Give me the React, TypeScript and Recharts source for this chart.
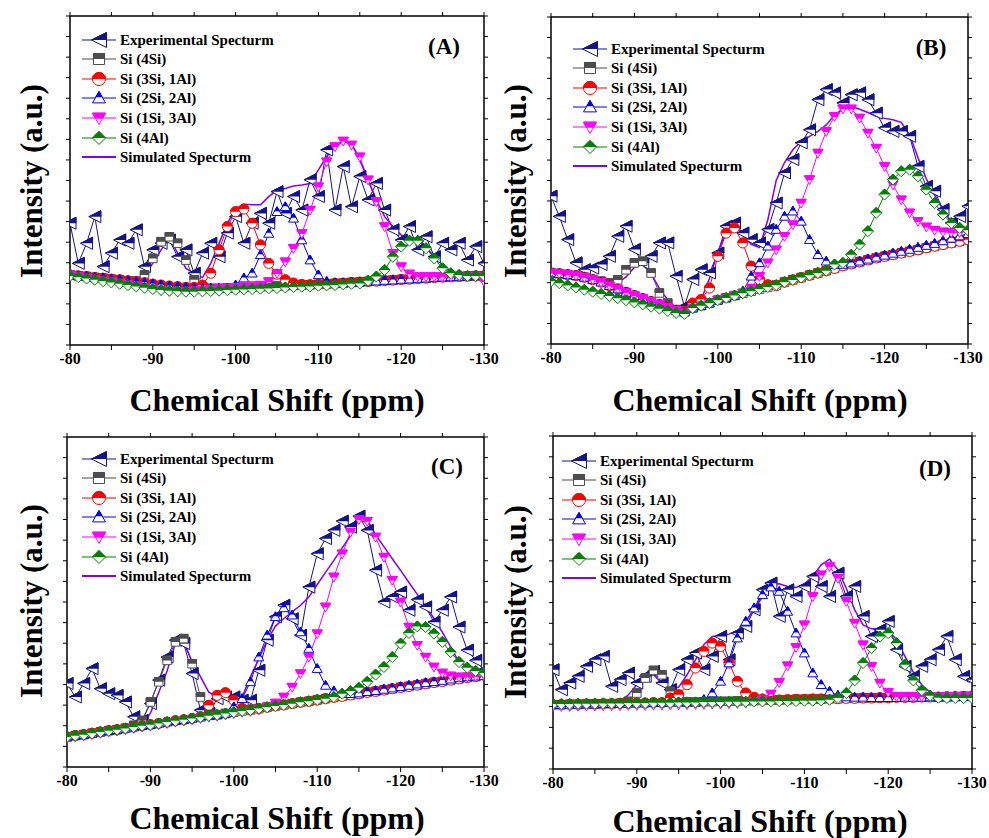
import React from "react";
import { LineChart, Line, XAxis, YAxis } from "recharts";

// chemical shift axis (ppm), one point per ppm
const ppm = [
  -80, -81, -82, -83, -84, -85, -86, -87, -88, -89, -90, -91, -92, -93, -94, -95, -96, -97, -98, -99,
  -100, -101, -102, -103, -104, -105, -106, -107, -108, -109, -110, -111, -112, -113, -114, -115, -116,
  -117, -118, -119, -120, -121, -122, -123, -124, -125, -126, -127, -128, -129, -130,
];
const xTicks = [-80, -85, -90, -95, -100, -105, -110, -115, -120, -125, -130];
const yTicks = [0, 6.25, 12.5, 18.75, 25, 31.25, 37.5, 43.75, 50, 56.25, 62.5, 68.75, 75, 81.25, 87.5, 93.75, 100];

// ---- panel A ----
const expA = [37, 24.8, 30.9, 39, 23.8, 27.9, 31.9, 30.9, 35, 23.8, 28.9, 30.9, 31.9, 26.8, 28.9, 21.8, 27.9, 30.9, 26.8, 34, 39, 30.9, 37, 40, 37, 46.6, 40, 45.1, 41, 50.2, 45.1, 59.3, 41, 54.2, 42, 51.2, 44.1, 49.1, 41, 35, 31.9, 36, 28.9, 32.9, 26.8, 30.9, 28.9, 30.9, 25.8, 29.9, 24.8];
const grayA = [21.3, 21, 20.8, 20.5, 20.3, 20, 19.8, 19.5, 19.4, 21.3, 26.3, 31.4, 32.9, 30.9, 25.8, 19.8, 17.4, 17.2, 17.2, 17.3, 17.4, 17.5, 17.6, 17.7, 17.8, 17.9, 18, 18.1, 18.2, 18.3, 18.4, 18.5, 18.7, 18.8, 19, 19.1, 19.3, 19.4, 19.6, 19.7, 19.9, 20, 20.2, 20.3, 20.5, 20.6, 20.7, 20.8, 20.9, 21, 21];
const redA = [21.3, 21, 20.8, 20.5, 20.3, 20, 19.8, 19.5, 19.2, 18.9, 18.5, 18.2, 17.9, 17.7, 17.5, 17.5, 18.2, 21.8, 28.9, 36, 40.5, 41.3, 37, 30.4, 24.8, 21.5, 19.8, 18.8, 18.4, 18.3, 18.4, 18.5, 18.7, 18.8, 19, 19.1, 19.3, 19.4, 19.6, 19.7, 19.9, 20, 20.2, 20.3, 20.5, 20.6, 20.7, 20.8, 20.9, 21, 21];
const blueA = [21.3, 21, 20.8, 20.5, 20.3, 20, 19.8, 19.5, 19.2, 18.9, 18.5, 18.2, 17.9, 17.7, 17.5, 17.3, 17.2, 17.2, 17.2, 17.3, 18.2, 20.3, 21.8, 27.4, 33.9, 40.5, 42, 38.5, 31.9, 25.8, 21.3, 19.3, 18.9, 18.8, 19, 19.1, 19.3, 19.4, 19.6, 19.7, 19.9, 20, 20.2, 20.3, 20.5, 20.6, 20.7, 20.8, 20.9, 21, 21];
const pinkA = [21.3, 20.8, 20.3, 19.8, 19.5, 19.2, 18.8, 18.4, 18, 17.5, 17, 16.6, 16.3, 16.2, 16.3, 16.5, 16.7, 16.9, 17.1, 17.3, 17.5, 17.7, 18, 18.2, 19.3, 21.8, 25.3, 29.4, 33.9, 41, 48.1, 55.7, 60.3, 62, 60.8, 57.2, 50.2, 43.6, 36, 27.9, 23.8, 21.6, 20.8, 20.8, 20.8, 20.8, 20.8, 20.8, 20.8, 20.8, 19.3];
const greenA = [21, 20.6, 20.2, 19.8, 19.4, 19, 18.6, 18.2, 17.8, 17.4, 17, 16.7, 16.5, 16.3, 16.2, 16.2, 16.3, 16.4, 16.5, 16.7, 16.8, 16.9, 17, 17.1, 17.2, 17.3, 17.5, 17.6, 17.7, 17.8, 18, 18.1, 18.2, 18.4, 18.6, 18.7, 19.5, 20.8, 22.8, 26.8, 29.9, 31.7, 31.7, 29.4, 26.3, 23.3, 21.8, 21.3, 21, 21, 21];
const simA = [21.8, 21.5, 21.2, 21, 20.8, 20.5, 20.3, 20, 19.8, 21.3, 24.8, 28.9, 32.4, 27.9, 23.3, 21.8, 20.5, 24.8, 30.9, 37, 41.5, 42.8, 42.6, 42.6, 45.1, 47.1, 47.6, 48.3, 48.6, 49.1, 53.2, 57.2, 60.3, 62, 61.3, 56.2, 50.2, 44.1, 39, 36, 33.4, 32.7, 32.4, 29.9, 26.8, 24.3, 22.3, 21.6, 21.3, 21.1, 21];

// ---- panel B ----
const expB = [45.2, 39, 31.9, 24.8, 22.7, 23.2, 24.3, 26.8, 32.9, 36, 28.9, 24.8, 26.8, 30.9, 30.9, 20.7, 11.5, 19.7, 22.7, 21.7, 27.8, 36, 37, 33.9, 31.9, 30.9, 35, 43.1, 52.3, 56.4, 61.5, 65.5, 74.7, 77.8, 76.8, 73.7, 76.2, 76.8, 74.7, 70.6, 66.1, 65, 65, 63.5, 54.3, 48.2, 46.7, 41.1, 37, 39, 42.1];
const grayB = [21.7, 21.5, 21.2, 20.9, 20.4, 19.7, 19.2, 18.7, 19.6, 22.7, 24.8, 25.3, 21.7, 15.6, 12.5, 10.5, 10, 11, 11.7, 12.5, 13.4, 14.1, 14.8, 15.5, 16.1, 16.8, 17.4, 18, 18.9, 19.6, 20.3, 21, 21.7, 22.4, 23.1, 23.9, 24.5, 25.1, 25.7, 26.3, 26.8, 27.3, 27.8, 28.3, 28.8, 29.4, 29.9, 30.4, 30.9, 31.4, 31.9];
const redB = [21.7, 21.5, 21.2, 20.9, 20.4, 19.7, 18.9, 17.8, 16.8, 15.8, 14.8, 13.9, 13, 12.1, 11.2, 10.3, 10, 12.5, 13.6, 17.1, 26.8, 33.9, 35.5, 30.9, 23.8, 19.7, 18.1, 17.8, 18.9, 19.6, 20.3, 21, 21.7, 22.4, 23.1, 23.9, 24.5, 25.1, 25.7, 26.3, 26.8, 27.3, 27.8, 28.3, 28.8, 29.4, 29.9, 30.4, 30.9, 31.4, 31.9];
const blueB = [21.7, 21.5, 21.2, 20.9, 20.4, 19.7, 18.9, 17.8, 16.8, 15.8, 14.8, 13.9, 13, 12.1, 11.2, 10.3, 9.7, 11, 11.7, 12.5, 13.4, 14.1, 14.8, 16.1, 20.7, 24.8, 29.9, 35, 39, 40.6, 37.5, 31.9, 27.3, 25.3, 24.3, 24.3, 24.7, 25.3, 25.9, 26.5, 27.1, 27.7, 28.3, 28.9, 29.5, 30.1, 30.7, 31.5, 32.3, 33, 33.7];
const pinkB = [21.7, 21.5, 21.2, 20.9, 20.4, 19.7, 18.9, 17.8, 16.8, 15.8, 14.8, 13.9, 13, 12.1, 11.2, 10.3, 9.5, 10.8, 11.7, 12.5, 13.4, 14.1, 14.8, 15.5, 17.1, 20.7, 24.8, 28.8, 32.9, 36.5, 43.1, 50.3, 58.4, 65, 69.6, 71.9, 71.9, 69.1, 64.5, 59.9, 54.3, 48.7, 44.1, 40.1, 37.5, 35.8, 34.8, 34.3, 34.1, 34.1, 34.5];
const greenB = [19.2, 18.6, 17.9, 17.3, 16.6, 16, 15.3, 14.7, 14, 13.4, 12.7, 12.1, 11.4, 10.8, 10.1, 9.5, 9.2, 11, 11.7, 12.5, 13.4, 14.1, 14.8, 15.5, 16.1, 16.8, 17.4, 18, 18.9, 19.6, 20.3, 21, 21.7, 22.4, 24.3, 24.8, 27.3, 30.4, 34.5, 40.1, 45.7, 50.3, 52.8, 53.3, 51.3, 47.2, 43.1, 39.6, 37, 35.5, 34.8];
const simB = [21.7, 21.6, 21.4, 21.2, 21, 20.6, 20, 19.3, 18.7, 20.5, 23.5, 24.3, 21.5, 17, 13.5, 11, 10.2, 11.2, 13.5, 20, 28, 34.5, 36.5, 33.5, 30.5, 29.5, 38, 50, 55.5, 59.4, 62, 63.5, 65, 67, 70, 72, 72.7, 71.8, 70.8, 69.6, 69, 68.6, 67.8, 64, 57, 50.5, 45.5, 41, 37.5, 35.8, 35];

// ---- panel C ----
const expC = [25.3, 21.2, 25.3, 29.8, 23.7, 22.2, 21.7, 19.7, 15.2, 14.1, 19.2, 26.3, 33.3, 38.4, 37.4, 28.3, 17.2, 16.2, 20.7, 21.2, 21.2, 20.2, 20.2, 29.3, 38.4, 45.5, 49, 44.9, 39.9, 54.5, 64.6, 69.2, 71.7, 74.5, 72.7, 76, 71.7, 59.6, 50, 51.5, 53, 47.5, 50.7, 48.5, 43.9, 47.5, 51.5, 42.4, 35.4, 32.3, 29.3];
const grayC = [9.1, 9.5, 9.8, 10.2, 10.6, 11, 11.3, 11.7, 12.6, 14.1, 19.7, 25.8, 32.3, 37.9, 38.9, 31.3, 21.2, 16.2, 15.8, 16.2, 16.6, 17, 17.3, 17.7, 18.1, 18.5, 18.8, 19.2, 19.6, 19.9, 20.3, 20.7, 21.1, 21.4, 21.8, 22.2, 22.6, 22.9, 23.3, 23.7, 24.1, 24.4, 24.8, 25.2, 25.6, 25.9, 26.3, 26.7, 27.1, 27.4, 27.8];
const redC = [9.1, 9.5, 9.8, 10.2, 10.6, 11, 11.3, 11.7, 12.1, 12.5, 12.8, 13.2, 13.6, 14, 14.3, 14.7, 15.2, 18.7, 21.7, 22.5, 20.2, 17.7, 17.3, 17.7, 18.1, 18.5, 18.8, 19.2, 19.6, 19.9, 20.3, 20.7, 21.1, 21.4, 21.8, 22.2, 22.6, 22.9, 23.3, 23.7, 24.1, 24.4, 24.8, 25.2, 25.6, 25.9, 26.3, 26.7, 27.1, 27.4, 27.8];
const blueC = [9.1, 9.5, 9.8, 10.2, 10.6, 11, 11.3, 11.7, 12.1, 12.5, 12.8, 13.2, 13.6, 14, 14.3, 14.7, 15.1, 15.5, 15.8, 16.2, 18.2, 20.7, 25.8, 33.3, 39.9, 45.5, 48.2, 46, 40.9, 35.9, 29.8, 24.7, 23, 22.2, 22.2, 22.4, 22.8, 23.1, 23.5, 23.9, 24.3, 24.7, 25.1, 25.5, 25.8, 26.2, 26.6, 27, 27.3, 27.5, 27.6];
const pinkC = [8.7, 9.1, 9.4, 9.8, 10.2, 10.6, 10.9, 11.3, 11.7, 12.1, 12.4, 12.8, 13.2, 13.6, 13.9, 14.3, 14.7, 15.1, 15.4, 15.8, 16.2, 16.6, 16.9, 17.3, 18.2, 19.4, 21.2, 24.2, 28.3, 33.3, 40.4, 48.5, 57.6, 64.6, 71.2, 75, 74.5, 69.7, 63.6, 56.6, 50, 42.4, 36.9, 33.3, 30.3, 28.5, 27.6, 27.3, 27.3, 27.5, 27.8];
const greenC = [9.1, 9.5, 9.8, 10.2, 10.6, 11, 11.3, 11.7, 12.1, 12.5, 12.8, 13.2, 13.6, 14, 14.3, 14.7, 15.1, 15.5, 15.8, 16.2, 16.6, 17, 17.3, 17.7, 18.1, 18.5, 18.8, 19.2, 19.6, 19.9, 20.3, 20.7, 21.2, 22.2, 23, 24, 25.8, 28, 30.3, 33.3, 37.4, 40.6, 42.6, 42.4, 40.4, 37.9, 34.8, 31.8, 30.1, 29.1, 28.5];
const simC = [9.1, 9.5, 9.9, 10.3, 10.7, 11.1, 11.5, 11.9, 12.3, 12.7, 16.3, 22.6, 29.1, 37.5, 37.5, 32, 27.4, 22.7, 21.2, 21.2, 21.2, 21.2, 27.3, 32.8, 38.4, 42.7, 45, 47, 49, 51.5, 55.3, 59, 62.6, 66.4, 70.1, 75, 75, 70.4, 66.8, 63.1, 59.6, 55.9, 52.3, 48.7, 45, 40.9, 36.4, 31.8, 30.7, 30, 29.3];

// ---- panel D ----
const expD = [29.8, 23.8, 25.8, 27.8, 30.8, 32.8, 33.8, 24.8, 26.8, 28.8, 25.8, 27.8, 29.3, 25.8, 23.8, 29.8, 32.8, 34.8, 29.8, 33.8, 39.8, 32.8, 40.8, 42.8, 47.8, 53.8, 55.8, 45.8, 53.8, 51.8, 54.8, 57.8, 54.8, 51.8, 58.8, 51.8, 54.8, 45.8, 39.8, 41.8, 44.3, 35.8, 30.8, 27.8, 30.8, 32.8, 35.8, 39.8, 32.8, 27.8, 26.8];
const grayD = [19.3, 19.3, 19.4, 19.4, 19.5, 19.5, 19.6, 19.6, 19.7, 20.3, 22.8, 27.3, 29.6, 28.3, 23.3, 20.8, 20.1, 20.1, 20.2, 20.2, 20.3, 20.3, 20.4, 20.5, 20.5, 20.6, 20.7, 20.7, 20.8, 20.9, 20.9, 21, 21, 21.1, 21.1, 21.2, 21.2, 21.3, 21.3, 21.4, 21.4, 21.5, 21.5, 21.5, 21.6, 21.6, 21.6, 21.7, 21.7, 21.8, 21.8];
const redD = [19.3, 19.3, 19.4, 19.4, 19.5, 19.5, 19.6, 19.6, 19.7, 19.7, 19.8, 19.8, 19.9, 19.9, 21.3, 22.3, 25.3, 30.3, 35.3, 37.8, 36.8, 31.8, 26.3, 22.8, 21.5, 21, 20.7, 20.7, 20.8, 20.9, 20.9, 21, 21, 21.1, 21.1, 21.2, 21.2, 21.3, 21.3, 21.4, 21.4, 21.5, 21.5, 21.5, 21.6, 21.6, 21.6, 21.7, 21.7, 21.8, 21.8];
const blueD = [19.3, 19.3, 19.4, 19.4, 19.5, 19.5, 19.6, 19.6, 19.7, 19.7, 19.8, 19.8, 19.9, 19.9, 20, 20, 20.1, 20.1, 20.8, 22.8, 26.3, 31.8, 39.3, 44.3, 48.3, 52.3, 54.6, 53.3, 47.3, 40.8, 34.8, 28.8, 25.3, 23.3, 22.1, 21.6, 21.5, 21.5, 21.4, 21.4, 21.4, 21.4, 21.5, 21.5, 21.5, 21.6, 21.6, 21.6, 21.7, 21.7, 21.8];
const pinkD = [18.8, 18.8, 18.8, 18.9, 18.9, 18.9, 19, 19, 19, 19.1, 19.1, 19.1, 19.2, 19.2, 19.2, 19.3, 19.3, 19.4, 19.4, 19.5, 19.5, 19.6, 19.7, 19.8, 20.3, 20.8, 22.5, 26, 31, 36.5, 43.3, 51.8, 58.3, 60.8, 57.3, 50.3, 43.8, 37.3, 30.8, 25.8, 23, 21.8, 21.8, 21.8, 21.8, 21.8, 21.8, 21.8, 21.8, 21.8, 21.8];
const greenD = [19.5, 19.5, 19.5, 19.6, 19.6, 19.6, 19.7, 19.7, 19.7, 19.8, 19.8, 19.8, 19.9, 19.9, 19.9, 20, 20, 20, 20.1, 20.1, 20.1, 20.2, 20.2, 20.2, 20.3, 20.3, 20.3, 20.4, 20.4, 20.4, 20.5, 20.5, 20.6, 20.8, 21.3, 22.8, 26.6, 31.8, 36.3, 39.8, 40.8, 37.8, 31.3, 26.6, 23.6, 22, 21.4, 21.3, 21.3, 21.3, 21.3];
const simD = [19.3, 19.3, 19.3, 19.4, 19.4, 19.5, 19.6, 19.8, 20.3, 22.3, 25.3, 27.8, 28.3, 25.8, 23.8, 24.6, 28.3, 32.8, 37.3, 39.8, 40.1, 40.5, 41.5, 44.3, 47.8, 51.8, 55.3, 55.6, 54.8, 54.5, 55.6, 57.8, 61.3, 63, 59.8, 54.3, 47.8, 43.3, 42.1, 42, 41.8, 38.8, 33.8, 29, 25.3, 23, 22.3, 22.3, 22.3, 22.3, 22.3];

const FONT = '"Liberation Serif", "Times New Roman", serif';

const series = [
  { key: "exp", name: "Experimental Specturm", color: "#14148a", shape: "triLeft", r: 6 },
  { key: "s4", name: "Si (4Si)", color: "#4d4d4d", shape: "square", r: 5 },
  { key: "s3", name: "Si (3Si, 1Al)", color: "#ff0000", shape: "circle", r: 5 },
  { key: "s2", name: "Si (2Si, 2Al)", color: "#0000ff", shape: "triUp", r: 5 },
  { key: "s1", name: "Si (1Si, 3Al)", color: "#ff00ff", shape: "triDown", r: 5 },
  { key: "s0", name: "Si (4Al)", color: "#008000", shape: "diamond", r: 5.5 },
  { key: "sim", name: "Simulated Specturm", color: "#8000ff", shape: "none", r: 0 },
];

function shapePath(shape: string, cx: number, cy: number, r: number) {
  switch (shape) {
    case "triLeft":
      return `M${cx - r},${cy}L${cx + r},${cy - r}L${cx + r},${cy + r}Z`;
    case "triUp":
      return `M${cx},${cy - r}L${cx + r},${cy + r * 0.75}L${cx - r},${cy + r * 0.75}Z`;
    case "triDown":
      return `M${cx},${cy + r}L${cx + r},${cy - r * 0.75}L${cx - r},${cy - r * 0.75}Z`;
    case "square": {
      const s = r * 0.85;
      return `M${cx - s},${cy - s}H${cx + s}V${cy + s}H${cx - s}Z`;
    }
    case "circle":
      return `M${cx - r},${cy}A${r},${r} 0 1,0 ${cx + r},${cy}A${r},${r} 0 1,0 ${cx - r},${cy}Z`;
    default:
      return `M${cx},${cy - r}L${cx + r},${cy}L${cx},${cy + r}L${cx - r},${cy}Z`;
  }
}

function Marker({ shape, cx, cy, r, color }: any) {
  const d = shapePath(shape, cx, cy, r);
  return (
    <g>
      <path d={d} fill="#fff" stroke={color} strokeWidth={1} />
      <path d={d} fill={color} stroke={color} strokeWidth={1} clipPath="url(#halfTop)" />
    </g>
  );
}

function makeRows(exp: number[], g: number[], r: number[], b: number[], p: number[], gr: number[], sim: number[]) {
  return ppm.map((x, i) => ({ x, exp: exp[i], s4: g[i], s3: r[i], s2: b[i], s1: p[i], s0: gr[i], sim: sim[i] }));
}

const panels = [
  { id: "A", rows: makeRows(expA, grayA, redA, blueA, pinkA, greenA, simA), left: 70, top: 16, w: 414, h: 329, legX: 82, legY: 39.5, tag: [444, 46], yLab: [31, 181], xLab: [277, 400] },
  { id: "B", rows: makeRows(expB, grayB, redB, blueB, pinkB, greenB, simB), left: 551, top: 17, w: 417, h: 327, legX: 573, legY: 48.5, tag: [931, 47], yLab: [515, 181], xLab: [760, 400] },
  { id: "C", rows: makeRows(expC, grayC, redC, blueC, pinkC, greenC, simC), left: 67, top: 437, w: 417, h: 330, legX: 82, legY: 458.5, tag: [447, 466], yLab: [31, 601], xLab: [277, 818] },
  { id: "D", rows: makeRows(expD, grayD, redD, blueD, pinkD, greenD, simD), left: 553, top: 436, w: 419, h: 333, legX: 562, legY: 460.5, tag: [935, 468], yLab: [515, 602], xLab: [760, 821] },
];

function BottomTick(t: any) {
  const v = t.payload.value;
  return (
    <text x={t.x} y={t.y} dy="0.71em" textAnchor="middle" fill="#000" fontFamily={FONT} fontWeight="bold" fontSize={16}>
      {v % 10 === 0 ? String(v) : ""}
    </text>
  );
}

function Legend({ x, y }: { x: number; y: number }) {
  return (
    <>
      {series.map((s, i) => (
        <div key={s.key} style={{ position: "absolute", left: x, top: y + i * 19.6 - 10, height: 20, display: "flex", alignItems: "center" }}>
          <svg width={34} height={20} style={{ overflow: "visible" }}>
            <line x1={0} x2={34} y1={10} y2={10} stroke={s.color} strokeWidth={s.key === "sim" ? 2 : 1.2} />
            {s.shape !== "none" && <Marker shape={s.shape} cx={17} cy={10} r={s.key === "exp" ? 7.5 : 6.5} color={s.color} />}
          </svg>
          <span style={{ marginLeft: 4, fontFamily: FONT, fontWeight: "bold", fontSize: 15, color: "#000", whiteSpace: "nowrap", lineHeight: "20px" }}>{s.name}</span>
        </div>
      ))}
    </>
  );
}

function Panel({ p }: { p: any }) {
  const axisLine = { stroke: "#000", strokeWidth: 1.5 };
  const tickLine = { stroke: "#000", strokeWidth: 1 };
  return (
    <>
      <div style={{ position: "absolute", left: p.left - 10, top: p.top - 10 }}>
        <LineChart width={p.w + 40} height={p.h + 40} data={p.rows} margin={{ top: 9, right: 29, bottom: 0, left: 9 }}>
          <XAxis xAxisId="b" type="number" dataKey="x" domain={[-130, -80]} reversed ticks={xTicks} interval={0} height={30}
            axisLine={axisLine} tickLine={tickLine} tickSize={5} tickMargin={3} tick={BottomTick} allowDataOverflow />
          <XAxis xAxisId="t" orientation="top" type="number" dataKey="x" domain={[-130, -80]} reversed ticks={xTicks} interval={0} height={1}
            axisLine={axisLine} tickLine={tickLine} tickSize={4} tickFormatter={() => ""} allowDataOverflow />
          <YAxis yAxisId="l" type="number" domain={[0, 100]} ticks={yTicks} interval={0} width={1}
            axisLine={axisLine} tickLine={tickLine} tickSize={4} tickFormatter={() => ""} allowDataOverflow />
          <YAxis yAxisId="r" orientation="right" type="number" domain={[0, 100]} ticks={yTicks} interval={0} width={1}
            axisLine={axisLine} tickLine={tickLine} tickSize={4} tickFormatter={() => ""} allowDataOverflow />
          {series.map((s) => (
            <Line key={s.key} xAxisId="b" yAxisId="l" type="linear" dataKey={s.key} stroke={s.color}
              strokeWidth={s.key === "sim" ? 1.5 : 1} isAnimationActive={false} activeDot={false}
              dot={s.shape === "none" ? false : (d: any) => <Marker key={`${s.key}-${d.index}`} shape={s.shape} cx={d.cx} cy={d.cy} r={s.r} color={s.color} />} />
          ))}
        </LineChart>
      </div>
      <Legend x={p.legX} y={p.legY} />
      <div style={{ position: "absolute", left: p.tag[0], top: p.tag[1], transform: "translate(-50%, -50%)", fontFamily: FONT, fontWeight: "bold", fontSize: 23, lineHeight: "23px" }}>({p.id})</div>
      <div style={{ position: "absolute", left: p.xLab[0], top: p.xLab[1], transform: "translate(-50%, -50%)", fontFamily: FONT, fontWeight: "bold", fontSize: 32, lineHeight: "32px", whiteSpace: "nowrap" }}>Chemical Shift (ppm)</div>
      <div style={{ position: "absolute", left: p.yLab[0], top: p.yLab[1], transform: "translate(-50%, -50%) rotate(-90deg)", fontFamily: FONT, fontWeight: "bold", fontSize: 31, lineHeight: "31px", whiteSpace: "nowrap" }}>Intensity (a.u.)</div>
    </>
  );
}

export default function App() {
  return (
    <div style={{ position: "absolute", left: 0, top: 0, width: 989, height: 838, background: "#fff", overflow: "hidden" }}>
      <svg width={0} height={0} style={{ position: "absolute" }}>
        <defs>
          <clipPath id="halfTop" clipPathUnits="objectBoundingBox">
            <rect x={-0.2} y={-0.2} width={1.4} height={0.7} />
          </clipPath>
        </defs>
      </svg>
      {panels.map((p) => (
        <Panel key={p.id} p={p} />
      ))}
    </div>
  );
}
